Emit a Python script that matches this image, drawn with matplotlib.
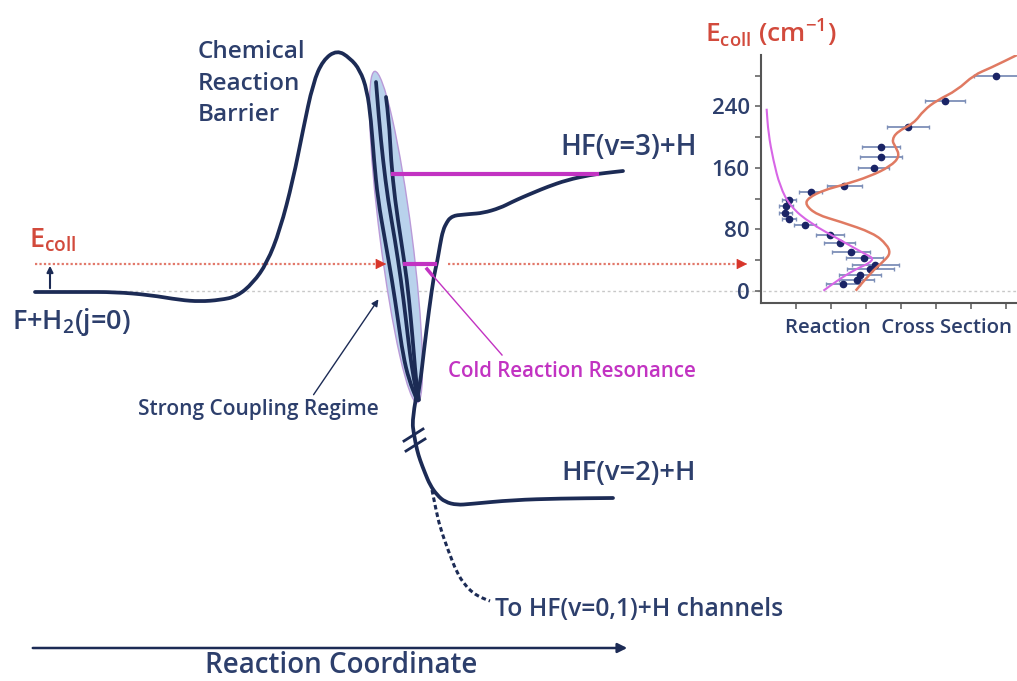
import numpy as np
import matplotlib
matplotlib.use("Agg")
import matplotlib.pyplot as plt
from matplotlib.patches import Ellipse, PathPatch
from matplotlib.path import Path

plt.rcParams['font.family'] = ['Open Sans', 'DejaVu Sans']
plt.rcParams['font.weight'] = 'semibold'
plt.rcParams['mathtext.fontset'] = 'custom'
plt.rcParams['mathtext.rm'] = 'Open Sans:semibold'

NAVY = '#1c2b55'
TXT = '#2d3f6c'
RED = '#d24a3c'
MAG = '#c233c2'

# --- schematic potential curve, traced in picture pixels (x right, y down)
entrance_x = [35, 80, 115, 150, 180, 200, 220, 237, 253, 267, 280, 293, 303, 313, 323, 337, 350, 360, 367,
              371, 374, 378, 385, 392, 398, 403, 409, 417]
entrance_y = [292, 292, 292, 295, 300, 301.5, 300, 296.5, 283, 263, 230, 180, 130, 83, 60, 50, 58, 70, 90,
              120, 160, 200, 240, 280, 320, 355, 380, 400]
inner2_x = [376, 379, 383, 388, 395, 401, 406, 410, 414, 418]
inner2_y = [82, 120, 160, 200, 240, 280, 320, 355, 380, 400]
inner3_x = [386, 389, 391, 395, 401, 407, 411, 414, 416, 419]
inner3_y = [97, 120, 160, 200, 240, 280, 320, 355, 380, 400]
v3_wall_x = [417, 420, 424, 429, 434, 437, 440, 443, 447, 450, 455, 460, 470, 483, 500, 512, 523, 535, 547,
             567, 590, 605, 623]
v3_wall_y = [400, 385, 350, 310, 275, 263, 245, 230, 222, 218, 215.5, 215, 214, 213, 208, 202, 197, 192, 187,
             180, 175, 173, 171]
v2_x = [416, 412, 414, 417, 420, 425, 430, 437, 445, 457, 470, 513, 560, 613]
v2_y = [398, 420, 435, 450, 460, 473, 485, 495, 502, 505, 504, 500, 498.5, 498]
low_x = [432, 436, 440, 448, 457, 465, 473, 482, 490]
low_y = [490, 510, 527, 550, 573, 585, 593, 598, 601]

# --- inset: reaction cross section vs collision energy
sigma = [6.7, 5.26, 4.19, 3.42, 3.43, 3.21, 2.37, 1.42, 0.79, 0.71, 0.69, 0.81, 1.26, 1.97, 2.24, 2.57,
         2.95, 3.26, 3.11, 2.81, 2.73, 2.33]
e_coll = [280, 247, 213, 187, 174, 160, 137, 128, 118, 110, 101, 93, 86, 72, 62, 51, 43, 34, 28, 20, 14, 9]
sigma_err = [0.64, 0.57, 0.6, 0.54, 0.6, 0.45, 0.5, 0.33, 0.2, 0.2, 0.18, 0.2, 0.31, 0.4, 0.45, 0.55,
             0.52, 0.67, 0.67, 0.6, 0.5, 0.48]
theory_x = [2.70, 3.11, 3.54, 3.69, 3.59, 3.21, 2.26, 1.59, 1.26, 1.35, 1.79, 2.36, 3.11, 3.69, 3.96, 3.83,
            3.73, 3.88, 4.36, 4.64, 5.02, 5.59, 6.07, 6.54, 7.3]
theory_e = [0, 23, 40, 49, 60, 75, 90, 99, 112, 121, 131, 138, 149, 162, 175, 188, 196, 207, 218, 235, 248,
            261, 281, 290, 307]
reson_x = [1.78, 2.45, 3.30, 2.92, 2.26, 1.40, 0.83, 0.54, 0.35, 0.21, 0.16]
reson_e = [0, 23, 40, 49, 66, 88, 110, 136, 170, 205, 237]
e_ticks = [0, 80, 160, 240]


def smooth(xs, ys):
    # quadratic bezier chain with the traced points as control points
    p = np.column_stack([xs, ys]).astype(float)
    verts, codes = [p[0]], [Path.MOVETO]
    for i in range(1, len(p) - 1):
        verts += [p[i], (p[i] + p[i + 1]) / 2]
        codes += [Path.CURVE3, Path.CURVE3]
    verts.append(p[-1])
    codes.append(Path.LINETO)
    return Path(verts, codes)


def curve(ax, xs, ys, **kw):
    ax.add_patch(PathPatch(smooth(xs, ys), facecolor='none', **kw))


fig = plt.figure(figsize=(10.17, 6.81), dpi=100)
ax = fig.add_axes([0, 0, 1, 1])
ax.set_xlim(0, 1017)
ax.set_ylim(681, 0)
ax.axis('off')

# baseline and collision energy arrows
ax.plot([35, 1017], [291, 291], color='#c8c8c8', lw=1, ls=(0, (2, 2)), zorder=1)
ax.plot([35, 380], [264, 264], color='#e2786a', lw=1.6, ls=(0, (1, 1)), zorder=2)
ax.annotate('', xy=(389, 264), xytext=(378, 264),
            arrowprops=dict(arrowstyle='-|>', color='#d8352a', lw=0.5, mutation_scale=17), zorder=6)
ax.plot([448, 740], [264, 264], color='#e2786a', lw=1.6, ls=(0, (1, 1)), zorder=2)
ax.annotate('', xy=(750, 264), xytext=(738, 264),
            arrowprops=dict(arrowstyle='-|>', color='#d8352a', lw=0.5, mutation_scale=17), zorder=6)
ax.annotate('', xy=(50, 263), xytext=(50, 291),
            arrowprops=dict(arrowstyle='-|>', color=NAVY, lw=1.5, mutation_scale=9))

# strong coupling region
ax.add_patch(Ellipse((396, 237), 32, 334, angle=-7.3, facecolor='#b9d2ec', edgecolor='#b99ad8',
                     lw=1, zorder=3))

line_kw = dict(edgecolor=NAVY, lw=2.7, zorder=5, capstyle='round', joinstyle='round')
curve(ax, entrance_x, entrance_y, **line_kw)
curve(ax, inner2_x, inner2_y, **line_kw)
curve(ax, inner3_x, inner3_y, **line_kw)
curve(ax, v3_wall_x, v3_wall_y, **line_kw)
curve(ax, v2_x, v2_y, **line_kw)
curve(ax, low_x, low_y, edgecolor=NAVY, lw=2.2, ls=(0, (1.5, 1)), zorder=5)
# axis break marks
ax.plot([404, 423], [441, 429], color=NAVY, lw=2, zorder=6)
ax.plot([406, 425], [451, 439], color=NAVY, lw=2, zorder=6)

# resonance levels
ax.plot([393, 597], [174, 174], color=MAG, lw=3, zorder=6)
ax.plot([405, 435], [264, 264], color=MAG, lw=3, zorder=6)
ax.plot([427, 432], [269, 275], color=MAG, lw=2.5, zorder=6)
ax.plot([428, 502], [270, 355], color=MAG, lw=1, zorder=6)

# reaction coordinate arrow
ax.annotate('', xy=(630, 648), xytext=(30, 648),
            arrowprops=dict(arrowstyle='-|>', color=NAVY, lw=1.8, mutation_scale=14))
ax.annotate('', xy=(380, 297), xytext=(312, 397),
            arrowprops=dict(arrowstyle='-|>', color=NAVY, lw=1, mutation_scale=10))

# labels
for word, yb in zip(['Chemical', 'Reaction', 'Barrier'], [58, 90, 121]):
    ax.text(198, yb, word, color=TXT, fontsize=17.5, ha='left', va='baseline')
ax.text(29, 248, r'E$_\mathregular{coll}$', color=RED, fontsize=19.5, ha='left', va='baseline')
ax.text(12, 329, r'F+H$_\mathregular{2}$(j=0)', color=TXT, fontsize=19.5, ha='left', va='baseline')
ax.text(560, 155, 'HF(v=3)+H', color=TXT, fontsize=20, ha='left', va='baseline')
ax.text(561, 480, 'HF(v=2)+H', color=TXT, fontsize=19.7, ha='left', va='baseline')
ax.text(448, 377, 'Cold Reaction Resonance', color=MAG, fontsize=14.8, ha='left', va='baseline')
ax.text(138, 415, 'Strong Coupling Regime', color=TXT, fontsize=15, ha='left', va='baseline')
ax.text(495, 616, 'To HF(v=0,1)+H channels', color=TXT, fontsize=17.7, ha='left', va='baseline')
ax.text(205, 673, 'Reaction Coordinate', color=TXT, fontsize=20, ha='left', va='baseline')
ax.text(705, 42, r'E$_\mathregular{coll}$ (cm$^\mathregular{-1}$)', color=RED, fontsize=19,
        ha='left', va='baseline')
ax.text(785, 333, 'Reaction  Cross Section', color=TXT, fontsize=14.7, ha='left', va='baseline')

# inset
ins = fig.add_axes([761 / 1017, 1 - 303 / 681, 256 / 1017, 248 / 681])
ins.set_facecolor('none')
ins.set_xlim(0, 7.3)
ins.set_ylim(-16, 307)
ins.errorbar(sigma, e_coll, xerr=sigma_err, fmt='o', color='#1a2466', ms=4.5, ecolor='#7d8fb8',
             elinewidth=1.3, capsize=1.5, zorder=3)
curve(ins, theory_x, theory_e, edgecolor='#e07a62', lw=1.8, zorder=4)
curve(ins, reson_x, reson_e, edgecolor='#d766e6', lw=1.5, zorder=4)
ins.set_yticks(e_ticks)
ins.set_yticks([40, 120, 200, 280], minor=True)
ins.set_xticks([1, 2, 3, 4, 5, 6, 7])
ins.set_xticklabels([])
ins.tick_params(axis='both', which='both', length=4, width=1.2, color='#666666')
ins.tick_params(axis='y', labelsize=16, labelcolor=TXT, pad=4)
for s in ['top', 'right']:
    ins.spines[s].set_visible(False)
for s in ['left', 'bottom']:
    ins.spines[s].set_color('#555555')
    ins.spines[s].set_linewidth(1.5)

fig.savefig('out.png', dpi=100)
